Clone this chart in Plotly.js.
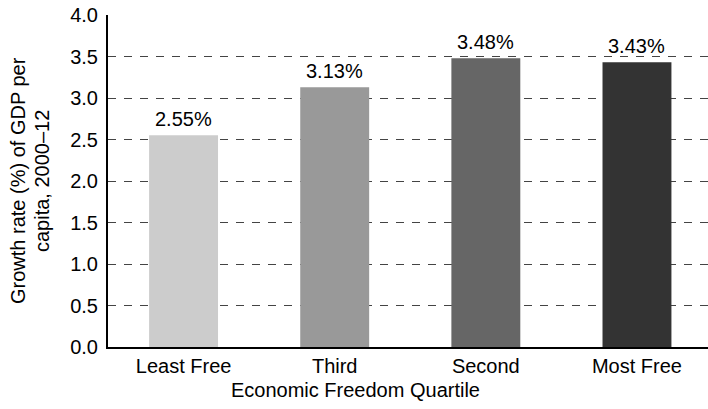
<!DOCTYPE html>
<html>
<head>
<meta charset="utf-8">
<script src="https://cdn.plot.ly/plotly-3.0.1.min.js"></script>
<style>
  html, body { margin: 0; padding: 0; background: #ffffff; overflow: hidden; }
  #chart { width: 708px; height: 409px; }
</style>
</head>
<body>
<div id="chart"></div>
<script>
// Growth of GDP per capita by economic freedom quartile
const quartiles = ['Least Free', 'Third', 'Second', 'Most Free'];
const growthRates = [2.55, 3.13, 3.48, 3.43];
const barColors = ['#cccccc', '#999999', '#666666', '#333333'];
const yTickValues = [0, 0.5, 1, 1.5, 2, 2.5, 3, 3.5, 4];
const yTitleLines = ['Growth rate (%) of GDP per', 'capita, 2000–12'];
const xTitle = 'Economic Freedom Quartile';

const FONT = 'Liberation Sans, Arial, Helvetica, sans-serif';
const FS = 20;
const textFont = { family: FONT, size: FS, color: '#000000' };

const bars = {
  type: 'bar',
  x: quartiles,
  y: growthRates,
  width: 0.456,
  marker: { color: barColors, line: { width: 0 } },
  hoverinfo: 'x+y'
};

// value labels above each bar
const valueLabels = quartiles.map((q, i) => ({
  x: q,
  y: growthRates[i],
  xref: 'x',
  yref: 'y',
  text: growthRates[i].toFixed(2) + '%',
  showarrow: false,
  yanchor: 'bottom',
  yshift: 3,
  font: textFont
}));

// x title centred under the whole figure rather than the plot area
const xTitleNote = {
  text: xTitle,
  xref: 'paper', yref: 'paper',
  x: 0.413, y: 0,
  xanchor: 'center', yanchor: 'top',
  yshift: -30,
  showarrow: false,
  font: textFont
};

// y title: each line is its own rotated label, both centred on the plot height
const yTitleNotes = yTitleLines.map((line, i) => ({
  text: line,
  xref: 'paper', yref: 'paper',
  x: 0, y: 0.5,
  xanchor: 'center', yanchor: 'middle',
  xshift: i === 0 ? -90 : -66,
  textangle: -90,
  showarrow: false,
  font: textFont
}));

const layout = {
  width: 708,
  height: 409,
  margin: { l: 108, r: 0, t: 15, b: 62 },
  paper_bgcolor: '#ffffff',
  plot_bgcolor: '#ffffff',
  showlegend: false,
  font: textFont,
  xaxis: {
    type: 'category',
    range: [-0.5, 3.47],
    showline: true,
    linecolor: '#000000',
    linewidth: 2,
    showgrid: false,
    ticks: '',
    ticklabelstandoff: 0,
    tickfont: textFont,
    fixedrange: true
  },
  yaxis: {
    range: [0, 4],
    tickvals: yTickValues,
    tickformat: '.1f',
    showline: true,
    linecolor: '#000000',
    linewidth: 2,
    zeroline: false,
    showgrid: true,
    gridcolor: '#444444',
    gridwidth: 1,
    griddash: '8px,8px',
    ticks: '',
    ticklabelstandoff: 4,
    tickfont: textFont,
    fixedrange: true
  },
  annotations: valueLabels.concat([xTitleNote], yTitleNotes)
};

Plotly.newPlot('chart', [bars], layout, { displayModeBar: false, staticPlot: true });
</script>
</body>
</html>
